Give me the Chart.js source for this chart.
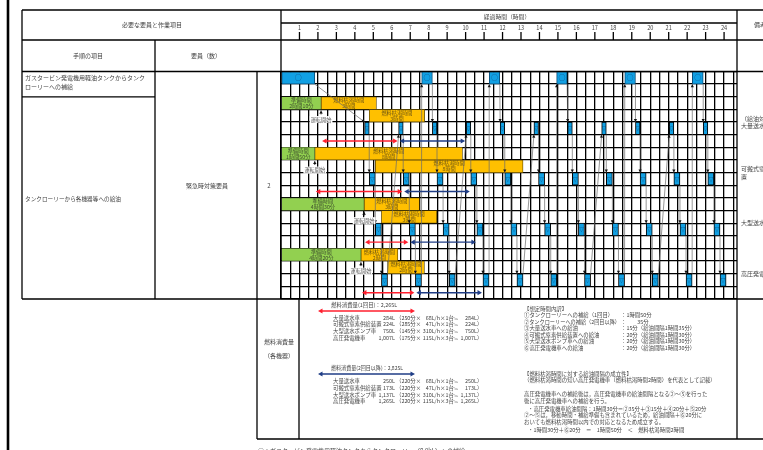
<!DOCTYPE html>
<html lang="ja">
<head>
<meta charset="UTF-8">
<title>給油タイムチャート</title>
<script src="https://cdn.jsdelivr.net/npm/chart.js"></script>
<style>
  html, body { margin: 0; padding: 0; background: #fff; }
  #wrap { width: 763px; height: 450px; position: relative; overflow: hidden; }
</style>
</head>
<body>
<div id="wrap"><canvas id="chart" width="763" height="450"></canvas></div>
<script>
const FONT = '"Noto Sans CJK JP", "Noto Sans", sans-serif';

// time axis (hours)
const hourLabels = ['1','2','3','4','5','6','7','8','9','10','11','12','13','14','15','16','17','18','19','20','21','22','23','24'];
const timeMax = 24.7;

// one category per grid row
const rowNames = [
  'タンクローリー補給', 'タンクローリー補給(移動)',
  '大量送水車(1)', '大量送水車(2)', '大量送水車 給油', '大量送水車 燃料消費',
  '可搬式窒素供給装置(1)', '可搬式窒素供給装置(2)', '可搬式窒素供給装置 給油', '可搬式窒素供給装置 燃料消費',
  '大型送水ポンプ車(1)', '大型送水ポンプ車(2)', '大型送水ポンプ車 給油', '大型送水ポンプ車 燃料消費',
  '高圧発電機車(1)', '高圧発電機車(2)', '高圧発電機車 給油', '高圧発電機車 燃料消費'
];

// ○ : tank -> tank lorry (hours from start)
const tankRefill = [[0, 1.83], [7.62, 8.2], [11.28, 11.85], [14.93, 15.5], [18.62, 19.2], [22.28, 22.87]];

const equipment = ['大量送水車', '可搬式窒素供給装置', '大型送水ポンプ車', '高圧発電機車'];
const prepTime = [[0, 2.17], [0, 1.83], [0, 4.5], [0, 4.33]];
const prepText = ['2時間10分', '1時間50分', '4時間30分', '4時間20分'];
const dryFirst = [[2.17, 5.17], [1.83, 9.83], [4.5, 7.5], [4.33, 6.33]];
const dryNext = [[4.78, 7.78], [5.11, 13.11], [5.44, 8.44], [5.77, 7.77]];
const dryText = ['3時間', '8時間', '3時間', '2時間'];
const startMarks = [2.17, 1.83, 4.5, 4.33];

// refuelling slots for each unit
const refuelWater = [[4.53, 4.78], [6.37, 6.62], [8.2, 8.45], [10.03, 10.28], [11.87, 12.12], [13.7, 13.95], [15.53, 15.78], [17.37, 17.62], [19.2, 19.45], [21.03, 21.28], [22.87, 23.12]];
const refuelNitrogen = [[4.78, 5.11], [6.62, 6.95], [8.45, 8.78], [10.28, 10.61], [12.12, 12.45], [13.95, 14.28], [15.78, 16.11], [17.62, 17.95], [19.45, 19.78], [21.28, 21.61], [23.12, 23.45]];
const refuelPump = [[5.11, 5.44], [6.95, 7.28], [8.78, 9.11], [10.61, 10.94], [12.45, 12.78], [14.28, 14.61], [16.11, 16.44], [17.95, 18.28], [19.78, 20.11], [21.61, 21.94], [23.45, 23.78]];
const refuelGen = [[5.44, 5.77], [7.28, 7.61], [9.11, 9.44], [10.94, 11.27], [12.78, 13.11], [14.61, 14.94], [16.44, 16.77], [18.28, 18.61], [20.11, 20.44], [21.94, 22.27], [23.78, 24.11]];

// fuel used: first time (red) and from the second time on (navy)
const useFirst = [[2.17, 6.37], [1.83, 6.62], [4.5, 6.95], [4.33, 7.28]];
const useNext = [[6.37, 10.03], [6.62, 10.28], [6.95, 10.61], [7.28, 10.94]];

// fuel consumption table
const fuelFirstTitle = '燃料消費量(1回目)：2,265L';
const fuelFirstL = ['284L', '224L', '750L', '1,007L'];
const fuelFirstMin = ['250', '285', '145', '175'];
const fuelNextTitle = '燃料消費量(2回目以降)：2,825L';
const fuelNextL = ['250L', '173L', '1,137L', '1,265L'];
const fuelNextMin = ['220', '220', '220', '220'];
const fuelRate = ['68', '47', '310', '115'];
const fuelUnits = ['1', '1', '1', '3'];

const timeBreakdown = [
  ['①タンクローリーへの補給（1回目）', '：1時間50分'],
  ['②タンクローリーへの補給（2回目以降）', '：　　35分'],
  ['③大量送水車への給油', '：15分（給油間隔1時間35分）'],
  ['④可搬式窒素供給装置への給油', '：20分（給油間隔1時間30分）'],
  ['⑤大型送水ポンプ車への給油', '：20分（給油間隔1時間30分）'],
  ['⑥高圧発電機車への給油', '：20分（給油間隔1時間30分）']
];

const remarks = [['（給油対', '大量送水'], ['可搬式窒', '置'], ['大型送水'], ['高圧発電']];

const BLUE = '#12a0e3';

function rowOf(i, k) { return rowNames[2 + 4 * i + k]; }

function bars(list, row) { return list.map(r => ({ x: r, y: row })); }

const datasets = [
  {
    label: 'タンクローリーへの補給',
    data: bars(tankRefill, rowNames[0]),
    backgroundColor: BLUE, borderColor: '#0b4f7a', borderWidth: 1,
    inText: tankRefill.map(() => ['○']), textColor: '#174a7c', textSize: 7
  },
  {
    label: '準備時間',
    data: prepTime.map((r, i) => ({ x: r, y: rowOf(i, 0) })),
    backgroundColor: '#92d050', borderColor: '#2f3b20', borderWidth: 0.6,
    inText: prepText.map(t => ['準備時間', t]), textColor: '#3b4a2c', textSize: 5.2
  },
  {
    label: '燃料枯渇時間',
    data: dryFirst.map((r, i) => ({ x: r, y: rowOf(i, 0) }))
      .concat(dryNext.map((r, i) => ({ x: r, y: rowOf(i, 1) }))),
    backgroundColor: '#ffc000', borderColor: '#5a4500', borderWidth: 0.8,
    inText: dryText.map(t => ['燃料枯渇時間', t]).concat(dryText.map(t => ['燃料枯渇時間', t])),
    textColor: '#6a5313', textSize: 5.2
  }
];
[refuelWater, refuelNitrogen, refuelPump, refuelGen].forEach((list, i) => {
  datasets.push({
    label: equipment[i] + 'への給油',
    data: bars(list, rowOf(i, 2)),
    backgroundColor: BLUE, borderColor: '#000', borderWidth: 1,
    inText: list.map(() => ['▽']), textColor: '#0c3c66', textSize: 4.5
  });
});
datasets.forEach(ds => {
  ds.barPercentage = 1;
  ds.categoryPercentage = 1;
  ds.grouped = false;
  ds.borderSkipped = false;
});

function txt(ctx, s, x, y, align, size, color, maxW) {
  ctx.font = (size || 5.8) + 'px ' + FONT;
  ctx.fillStyle = color || '#444';
  ctx.textAlign = align || 'left';
  ctx.textBaseline = 'middle';
  if (maxW) ctx.fillText(s, x, y, maxW); else ctx.fillText(s, x, y);
}

function line(ctx, x1, y1, x2, y2, w, color) {
  ctx.strokeStyle = color || '#000';
  ctx.lineWidth = w || 1.3;
  ctx.beginPath();
  ctx.moveTo(x1, y1);
  ctx.lineTo(x2, y2);
  ctx.stroke();
}

function head(ctx, x, y, ang, len, half, color) {
  ctx.save();
  ctx.translate(x, y);
  ctx.rotate(ang);
  ctx.beginPath();
  ctx.moveTo(0, 0);
  ctx.lineTo(-len, -half);
  ctx.lineTo(-len, half);
  ctx.closePath();
  ctx.fillStyle = color;
  ctx.fill();
  ctx.restore();
}

function doubleArrow(ctx, x1, x2, y, color) {
  line(ctx, x1 + 3, y, x2 - 3, y, 1.4, color);
  head(ctx, x1, y, Math.PI, 4.5, 2.6, color);
  head(ctx, x2, y, 0, 4.5, 2.6, color);
}

const sheet = {
  id: 'sheet',
  afterDatasetsDraw(chart) {
    const ctx = chart.ctx, xs = chart.scales.x, ys = chart.scales.y;
    const rowH = Math.abs(ys.getPixelForValue(1) - ys.getPixelForValue(0));
    const top = i => ys.getPixelForValue(i) - rowH / 2;
    const bot = i => ys.getPixelForValue(i) + rowH / 2;
    ctx.save();

    // texts inside the bars
    chart.data.datasets.forEach((ds, di) => {
      if (!ds.inText) return;
      chart.getDatasetMeta(di).data.forEach((el, j) => {
        const lines = ds.inText[j];
        const cx = (el.x + el.base) / 2;
        const gap = ds.textSize + 0.8;
        lines.forEach((s, n) => {
          txt(ctx, s, cx, el.y + (n - (lines.length - 1) / 2) * gap, 'center', ds.textSize, ds.textColor);
        });
      });
    });

    // tank lorry route between refuelling slots
    const stops = tankRefill.map(r => ({ r, row: 0 }));
    [refuelWater, refuelNitrogen, refuelPump, refuelGen].forEach((list, i) => {
      list.forEach(r => stops.push({ r, row: 4 + 4 * i }));
    });
    stops.sort((a, b) => a.r[0] - b.r[0] || a.row - b.row);
    for (let k = 1; k < stops.length; k++) {
      const p = stops[k - 1], q = stops[k];
      const x1 = xs.getPixelForValue(p.r[1]), x2 = xs.getPixelForValue(q.r[0]);
      let y1, y2;
      if (q.row > p.row) { y1 = bot(p.row); y2 = top(q.row); }
      else { y1 = top(p.row); y2 = bot(q.row); }
      line(ctx, x1, y1, x2, y2, 0.7, '#6a6a6a');
      head(ctx, x2, y2, Math.atan2(y2 - y1, x2 - x1), 3, 1.6, '#111');
    }

    // fuel consumption spans
    equipment.forEach((e, i) => {
      const y = ys.getPixelForValue(5 + 4 * i);
      doubleArrow(ctx, xs.getPixelForValue(useFirst[i][0]) + 1, xs.getPixelForValue(useFirst[i][1]) - 1, y, '#ff1f2e');
      doubleArrow(ctx, xs.getPixelForValue(useNext[i][0]) + 1, xs.getPixelForValue(useNext[i][1]) - 1, y, '#1f3d86');
    });

    // 運転開始 marks
    startMarks.forEach((t, i) => {
      const x = xs.getPixelForValue(t);
      const r = 3 + 4 * i;
      line(ctx, x, top(r) + 1, x, top(r) + 5, 0.8, '#111');
      head(ctx, x, top(r) + 1.5, -Math.PI / 2, 2.6, 1.8, '#111');
      ctx.font = '5.2px ' + FONT;
      const w = ctx.measureText('運転開始').width + 2;
      ctx.fillStyle = '#fff';
      ctx.fillRect(x - w / 2, bot(r) - 6, w, 7);
      txt(ctx, '運転開始', x, bot(r) - 2.5, 'center', 5.2, '#555');
    });
    ctx.restore();
  },

  afterDraw(chart) {
    const ctx = chart.ctx, xs = chart.scales.x, ys = chart.scales.y;
    const ca = chart.chartArea;
    const rowH = Math.abs(ys.getPixelForValue(1) - ys.getPixelForValue(0));
    const bot = i => ys.getPixelForValue(i) + rowH / 2;
    const L = ca.left, R = ca.right, T = ca.top, B = ca.bottom;
    ctx.save();

    // frame
    line(ctx, 8, 0, 8, 450, 2.6);
    line(ctx, 22, 10, 763, 10);
    line(ctx, L, 23, R, 23);
    line(ctx, 22, 40, 763, 40);
    line(ctx, 22, T, 763, T);
    line(ctx, 22, bot(1), 155, bot(1));
    line(ctx, 22, B, 763, B);
    line(ctx, 22, 10, 22, B);
    line(ctx, 155, 40, 155, B);
    line(ctx, 257, T, 257, 439);
    line(ctx, L, 10, L, B);
    line(ctx, 299, B, 299, 439);
    line(ctx, R, 10, R, 439);
    line(ctx, 257, 439, 763, 439);

    // hour ticks
    hourLabels.forEach(h => {
      const x = xs.getPixelForValue(Number(h));
      txt(ctx, h, x, 27.5, 'center', 5.6, '#444');
      line(ctx, x, 32, x, 40, 1.3);
    });

    // headings
    txt(ctx, '必要な要員と作業項目', 152, 25, 'center', 6);
    txt(ctx, '経過時間（時間）', 507, 16.5, 'center', 5.8);
    txt(ctx, '備考', 754, 25, 'left', 6);
    txt(ctx, '手順の項目', 88, 56, 'center', 6);
    txt(ctx, '要員（数）', 206, 56, 'center', 6);
    txt(ctx, 'ガスタービン発電機用軽油タンクからタンク', 25, 77.5, 'left', 6, '#444', 122);
    txt(ctx, 'ローリーへの補給', 25, 86.5, 'left', 6);
    txt(ctx, 'タンクローリーから各機器等への給油', 25, 199, 'left', 5.8, '#444', 96);
    txt(ctx, '緊急時対策要員', 207, 185.5, 'center', 6);
    txt(ctx, '2', 269, 185.5, 'center', 6);

    remarks.forEach((lines, i) => {
      const yc = ys.getPixelForValue(3.5 + 4 * i);
      lines.forEach((s, n) => txt(ctx, s, 741, yc + (n - (lines.length - 1) / 2) * 7.5, 'left', 6));
    });

    // fuel consumption block
    txt(ctx, '燃料消費量', 279, 342, 'center', 6);
    txt(ctx, '（各機器）', 279, 355.5, 'center', 6);

    const fuelRows = (title, ty, ay, color, litres, mins, y0) => {
      doubleArrow(ctx, 318, 415, ay, color);
      txt(ctx, title, 331, ty, 'left', 5.4, '#444', 72);
      equipment.forEach((e, i) => {
        const y = y0 + i * 6.8;
        txt(ctx, e, 333, y, 'left', 5.4, '#444', 52);
        txt(ctx, litres[i], 395, y, 'right', 5.4);
        txt(ctx, '（' + mins[i] + '分×', 396, y, 'left', 5.4);
        txt(ctx, fuelRate[i] + 'L/h', 440, y, 'right', 5.4);
        txt(ctx, '×' + fuelUnits[i] + '台≒', 440, y, 'left', 5.4);
        txt(ctx, litres[i], 477, y, 'right', 5.4);
        txt(ctx, '）', 477, y, 'left', 5.4);
      });
    };
    fuelRows(fuelFirstTitle, 305, 311, '#ff1f2e', fuelFirstL, fuelFirstMin, 317.5);
    fuelRows(fuelNextTitle, 368, 374, '#1f3d86', fuelNextL, fuelNextMin, 381);

    txt(ctx, '【想定時間内訳】', 524, 308.7, 'left', 5.4);
    timeBreakdown.forEach((p, i) => {
      const y = 315 + i * 6.55;
      txt(ctx, p[0], 524, y, 'left', 5.4, '#444', 96);
      txt(ctx, p[1], 621, y, 'left', 5.4);
    });
    txt(ctx, '【燃料枯渇時間に対する給油間隔の成立性】', 524, 373.5, 'left', 5.4);
    txt(ctx, '（燃料枯渇時間の短い高圧発電機車（燃料枯渇時間2時間）を代表として記載）', 524, 380, 'left', 5.4, '#444', 194);
    txt(ctx, '高圧発電機車への補給後は，高圧発電機車の給油間隔となる②～⑤を行った', 524, 394, 'left', 5.4, '#444', 189);
    txt(ctx, '後に高圧発電機車への補給を行う。', 524, 400.5, 'left', 5.4);
    txt(ctx, '・高圧発電機車給油間隔：1時間30分＝②35分＋③15分＋④20分＋⑤20分', 528, 409, 'left', 5.4, '#444', 183);
    txt(ctx, '②～⑤は，移動時間・補給準備も含まれているため，給油間隔＋⑥20分に', 524, 415.3, 'left', 5.4, '#444', 182);
    txt(ctx, 'おいても燃料枯渇時間以内での対応となるため成立する。', 524, 421.6, 'left', 5.4);
    txt(ctx, '・1時間30分＋⑥20分　＝　1時間50分　＜　燃料枯渇時間2時間', 528, 430, 'left', 5.4, '#444', 160);

    txt(ctx, '○：ガスタービン発電機用軽油タンクからタンクローリー（8.0kL）への補給', 258, 450.5, 'left', 6, '#444');
    ctx.restore();
  }
};

new Chart(document.getElementById('chart').getContext('2d'), {
  type: 'bar',
  data: { labels: rowNames, datasets: datasets },
  options: {
    indexAxis: 'y',
    responsive: false,
    animation: false,
    devicePixelRatio: 1,
    events: [],
    layout: { padding: { left: 281, right: 26, top: 71.5, bottom: 151 } },
    plugins: { legend: { display: false }, tooltip: { enabled: false } },
    scales: {
      x: {
        type: 'linear', min: 0, max: timeMax,
        ticks: { display: false, stepSize: 0.5, includeBounds: false },
        grid: { color: '#000', lineWidth: 1.3, drawTicks: false },
        border: { display: false }
      },
      y: {
        type: 'category', offset: true,
        ticks: { display: false },
        grid: { color: '#000', lineWidth: 1.3, drawTicks: false, offset: true },
        border: { display: false }
      }
    }
  },
  plugins: [sheet]
});
</script>
</body>
</html>
